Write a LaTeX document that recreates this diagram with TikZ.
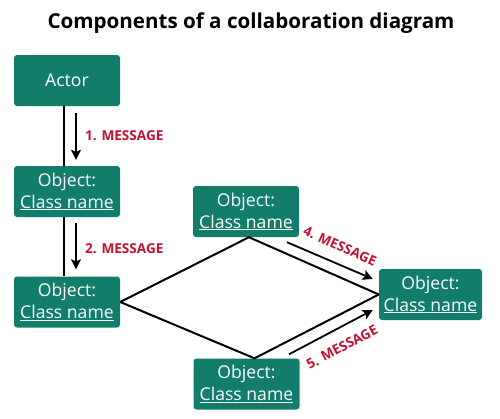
\documentclass[tikz,border=0pt]{standalone}
\usepackage{fontspec}
\setmainfont{Open Sans}
\usetikzlibrary{arrows.meta}
\definecolor{boxteal}{RGB}{18,125,107}
\definecolor{msgred}{RGB}{200,16,46}

\begin{document}
\begin{tikzpicture}[x=1pt, y=-1pt,
    obj/.style={fill=boxteal, rounded corners=3pt, minimum width=106pt, minimum height=51pt,
        text=white, font=\fontsize{17.6}{22}\selectfont, align=center, inner sep=0pt},
    link/.style={line width=2pt},
    msg/.style={line width=1.8pt, -{Stealth[length=10pt,width=10pt,inset=2pt]}},
    msglabel/.style={text=msgred, font=\bfseries\fontsize{13.6}{15}\selectfont, inner sep=0pt}]
    \useasboundingbox (0,0) rectangle (500,418);

    % Title
    \node[font=\bfseries\fontsize{20.6}{24}\selectfont] (title) at (251,23) {Components of a collaboration diagram};

    % Objects
    \node[obj] (actor) at (67,80.5) {Actor};
    \node[obj] (obj1) at (67,191.5) {Object:\\\underline{Class name}};
    \node[obj] (obj2) at (67,302) {Object:\\\underline{Class name}};
    \node[obj] (objtop) at (246,211.5) {Object:\\\underline{Class name}};
    \node[obj, minimum width=103pt] (objright) at (430.5,294.5) {Object:\\\underline{Class name}};
    \node[obj] (objbot) at (246.5,384) {Object:\\\underline{Class name}};

    % Links
    \draw[link] ([xshift=-3pt]actor.south) -- ([xshift=-3pt]obj1.north);
    \draw[link] ([xshift=-3pt]obj1.south) -- ([xshift=-3pt]obj2.north);
    \draw[link] (obj2.east) -- ([xshift=3pt]objtop.south) -- (objright.west);
    \draw[link] (obj2.east) -- ([xshift=8pt]objbot.north) -- (objright.west);

    % Messages
    \draw[msg] ([xshift=9pt,yshift=-7pt]actor.south) -- ([xshift=9pt,yshift=6pt]obj1.north);
    \draw[msg] ([xshift=9pt,yshift=-6pt]obj1.south) -- ([xshift=9pt,yshift=7pt]obj2.north);
    \draw[msg] ([xshift=41pt,yshift=-5pt]objtop.south) -- ([xshift=-6pt,yshift=15.5pt]objright.west);
    \draw[msg] ([xshift=42.5pt,yshift=4pt]objbot.north) -- ([xshift=-6pt,yshift=-15.5pt]objright.west);

    % Labels
    \node[msglabel, anchor=west] (lab1) at (85,136) {1. MESSAGE};
    \node[msglabel, anchor=west] (lab2) at (85,249) {2. MESSAGE};
    \node[msglabel, rotate=-24] (lab4) at (340,246) {4. MESSAGE};
    \node[msglabel, rotate=28] (lab5) at (342,347) {5. MESSAGE};
\end{tikzpicture}
\end{document}
